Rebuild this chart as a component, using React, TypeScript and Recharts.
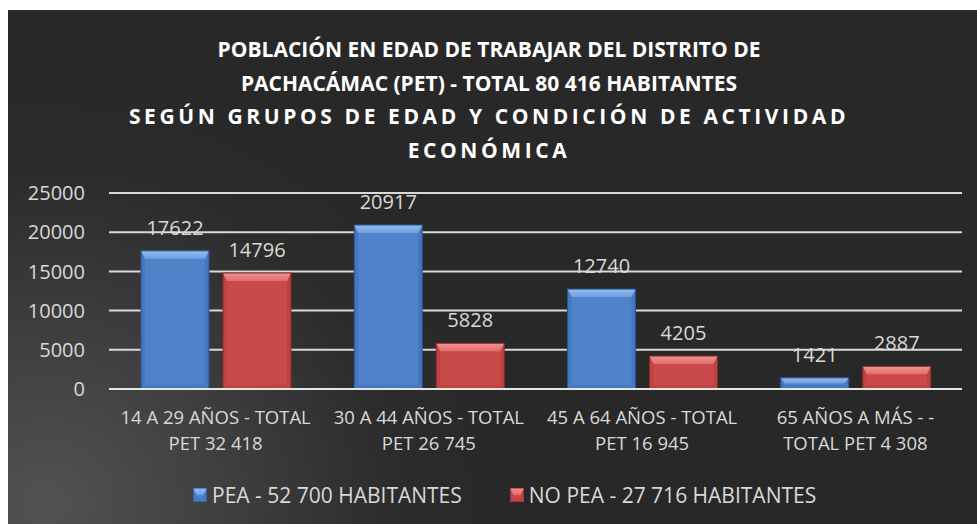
import React from "react";
import {
  BarChart,
  Bar,
  XAxis,
  YAxis,
  CartesianGrid,
  LabelList,
} from "recharts";

// age groups (two-line tick labels)
const groupLine1 = [
  "14 A 29 AÑOS - TOTAL",
  "30 A 44 AÑOS - TOTAL",
  "45 A 64 AÑOS - TOTAL",
  "65 AÑOS A MÁS - -",
];
const groupLine2 = [
  "PET 32 418",
  "PET 26 745",
  "PET 16 945",
  "TOTAL PET 4 308",
];

const peaValues = [17622, 20917, 12740, 1421];
const noPeaValues = [14796, 5828, 4205, 2887];

const peaName = "PEA - 52 700 HABITANTES";
const noPeaName = "NO PEA - 27 716 HABITANTES";

const yTicks = [0, 5000, 10000, 15000, 20000, 25000];

const titleLines = [
  "POBLACIÓN EN EDAD DE TRABAJAR DEL DISTRITO DE",
  "PACHACÁMAC (PET) - TOTAL 80 416 HABITANTES",
  "SEGÚN GRUPOS DE EDAD Y CONDICIÓN DE ACTIVIDAD",
  "ECONÓMICA",
];

const data = groupLine1.map((l1, i) => ({
  name: l1 + " " + groupLine2[i],
  line1: l1,
  line2: groupLine2[i],
  pea: peaValues[i],
  nopea: noPeaValues[i],
}));

type Palette = { main: string; light: string; top: string; side: string; bottom: string; edge: string };

const blue: Palette = {
  main: "#4f82c9",
  light: "#93bcf0",
  top: "#6f9fe0",
  side: "#4577c0",
  bottom: "#4778bf",
  edge: "#2c5392",
};
const red: Palette = {
  main: "#c94a48",
  light: "#f09290",
  top: "#df6e6b",
  side: "#bd4240",
  bottom: "#bf4341",
  edge: "#8c2c2a",
};

const FONT = "'Open Sans', sans-serif";
const TXT = "#d9d9d9";

function BevelBar(props: any) {
  const { x, y, width, height, pal, id } = props;
  if (!height || height <= 0) return null;
  const b = Math.min(8, height / 2, width / 2);
  const s = Math.min(4, width / 4);
  const x2 = x + width;
  const y2 = y + height;
  return (
    <g>
      <defs>
        <linearGradient id={`top-${id}`} x1="0" y1="0" x2="0" y2="1">
          <stop offset="0%" stopColor={pal.light} />
          <stop offset="100%" stopColor={pal.top} />
        </linearGradient>
      </defs>
      <rect x={x} y={y} width={width} height={height} fill={pal.main} />
      <polygon points={`${x},${y} ${x + s},${y + b} ${x + s},${y2 - s} ${x},${y2}`} fill={pal.side} />
      <polygon points={`${x2},${y} ${x2 - s},${y + b} ${x2 - s},${y2 - s} ${x2},${y2}`} fill={pal.side} />
      <polygon points={`${x},${y2} ${x + s},${y2 - s} ${x2 - s},${y2 - s} ${x2},${y2}`} fill={pal.bottom} />
      <polygon points={`${x},${y} ${x2},${y} ${x2 - s},${y + b} ${x + s},${y + b}`} fill={`url(#top-${id})`} />
      <rect x={x} y={y} width={width} height={height} fill="none" stroke={pal.edge} strokeWidth={1} />
    </g>
  );
}

function GroupTick(props: any) {
  const { x, y, payload } = props;
  const row = data.find((d) => d.name === payload.value);
  return (
    <g transform={`translate(${x},${y})`}>
      <text textAnchor="middle" fill={TXT} fontSize={18.5} fontFamily={FONT}>
        <tspan x={0} dy={27}>{row?.line1}</tspan>
        <tspan x={0} dy={26}>{row?.line2}</tspan>
      </text>
    </g>
  );
}

export default function App() {
  return (
    <div
      style={{
        position: "fixed",
        left: 8,
        top: 10,
        width: 969,
        height: 514,
        background:
          "radial-gradient(ellipse 48% 85% at 4% 96%, #525252 0%, #3e3e3e 40%, #2c2c2c 75%, #282828 100%)",
        backgroundColor: "#282828",
        fontFamily: FONT,
        overflow: "hidden",
      }}
    >
      <div
        style={{
          position: "absolute",
          top: 23,
          left: 0,
          width: 962,
          textAlign: "center",
          color: "#ffffff",
          fontWeight: 700,
          fontSize: 21,
          lineHeight: "33.5px",
        }}
      >
        <div>{titleLines[0]}</div>
        <div>{titleLines[1]}</div>
        <div style={{ letterSpacing: 3.6 }}>{titleLines[2]}</div>
        <div style={{ letterSpacing: 3.6 }}>{titleLines[3]}</div>
      </div>

      <BarChart
        width={969}
        height={514}
        data={data}
        margin={{ top: 183, right: 15, bottom: 75, left: 0 }}
        barCategoryGap="15%"
        barGap={14}
      >
        <CartesianGrid vertical={false} stroke={TXT} strokeWidth={2} />
        <XAxis
          dataKey="name"
          height={60}
          tickLine={false}
          axisLine={{ stroke: "#e6e6e6", strokeWidth: 2 }}
          tick={<GroupTick />}
          interval={0}
        />
        <YAxis
          width={101}
          domain={[0, 25000]}
          ticks={yTicks}
          tickLine={false}
          axisLine={false}
          tickMargin={18}
          tick={{ fill: TXT, fontSize: 20, fontFamily: FONT }}
        />
        <Bar
          dataKey="pea"
          name={peaName}
          isAnimationActive={false}
          shape={(p: any) => <BevelBar {...p} pal={blue} id={`pea-${p.index}`} />}
        >
          <LabelList dataKey="pea" position="top" offset={16} fill={TXT} fontSize={20} fontFamily={FONT} />
        </Bar>
        <Bar
          dataKey="nopea"
          name={noPeaName}
          isAnimationActive={false}
          shape={(p: any) => <BevelBar {...p} pal={red} id={`nopea-${p.index}`} />}
        >
          <LabelList dataKey="nopea" position="top" offset={16} fill={TXT} fontSize={20} fontFamily={FONT} />
        </Bar>
      </BarChart>

      <div
        style={{
          position: "absolute",
          top: 471,
          left: 185,
          display: "flex",
          alignItems: "center",
          color: TXT,
          fontSize: 21,
          lineHeight: "28px",
          whiteSpace: "nowrap",
        }}
      >
        {[
          { name: peaName, pal: blue },
          { name: noPeaName, pal: red },
        ].map((it, i) => (
          <div key={i} style={{ display: "flex", alignItems: "center", marginRight: 48 }}>
            <svg width={14} height={14} style={{ marginRight: 5 }}>
              <BevelBar x={0} y={0} width={14} height={14} pal={it.pal} id={`leg-${i}`} />
            </svg>
            <span>{it.name}</span>
          </div>
        ))}
      </div>
    </div>
  );
}
